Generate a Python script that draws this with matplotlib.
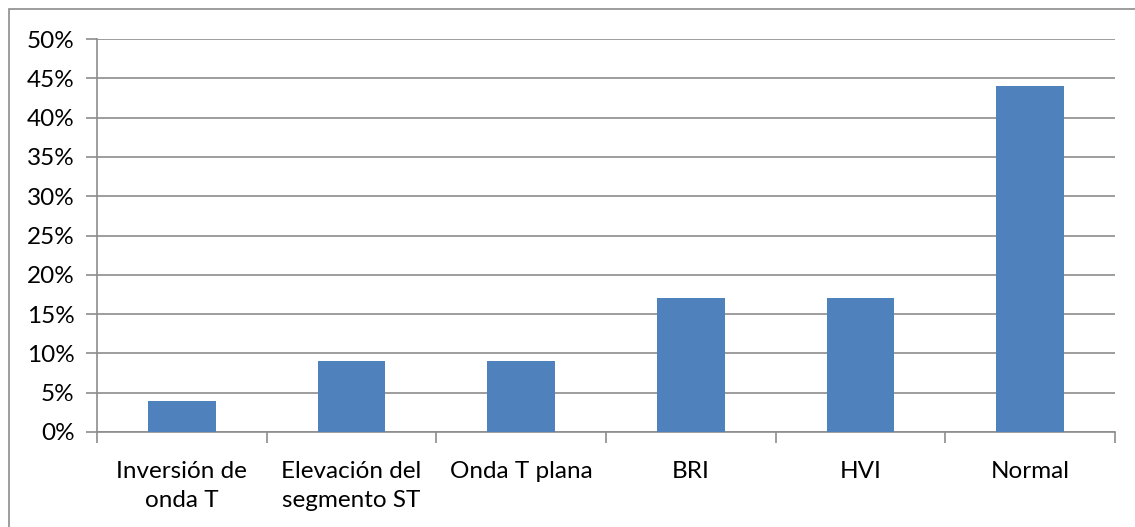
import matplotlib
matplotlib.use("Agg")
import matplotlib.pyplot as plt
from matplotlib.patches import Rectangle
from matplotlib.ticker import FuncFormatter, MultipleLocator

categories = ["Inversión de\nonda T", "Elevación del\nsegmento ST", "Onda T plana", "BRI", "HVI", "Normal"]
values = [4, 9, 9, 17, 17, 44]

plt.rcParams['font.family'] = ['Lato', 'DejaVu Sans']

W, H = 1135, 527
fig = plt.figure(figsize=(W/100, H/100), dpi=100)
ax = fig.add_axes([97/W, 1-432/H, (1115-97)/W, (432-39)/H])

x = list(range(len(categories)))
ax.bar(x, values, width=0.4, color="#4F81BD", zorder=3)
ax.set_xlim(-0.5, len(categories)-0.5)
ax.set_ylim(0, 50)
ax.yaxis.set_major_locator(MultipleLocator(5))
ax.yaxis.set_major_formatter(FuncFormatter(lambda v, p: f"{int(round(v))}%"))
ax.grid(axis='y', color="#8C8C8C", linewidth=1.2, zorder=0)
ax.set_axisbelow(True)

ax.set_xticks([i - 0.5 for i in range(len(categories)+1)])
ax.set_xticklabels([])
ax.set_xticks(x, minor=True)
ax.set_xticklabels(categories, minor=True, fontsize=17.5, color="#000000", linespacing=1.45)
ax.tick_params(axis='x', which='major', length=8, width=1.2, color="#8C8C8C")
ax.tick_params(axis='x', which='minor', length=0, pad=21)
ax.tick_params(axis='y', length=8, width=1.2, color="#8C8C8C", labelsize=17.5, pad=8)

for s in ['top', 'right']:
    ax.spines[s].set_visible(False)
for s in ['left', 'bottom']:
    ax.spines[s].set_color("#8C8C8C")
    ax.spines[s].set_linewidth(1.2)

fig.patches.append(Rectangle((9/W, -0.1), 1.2, 1 - 9/H + 0.1, transform=fig.transFigure,
                             fill=False, edgecolor="#8C8C8C", linewidth=1.2))

fig.savefig("out.png", dpi=100)
